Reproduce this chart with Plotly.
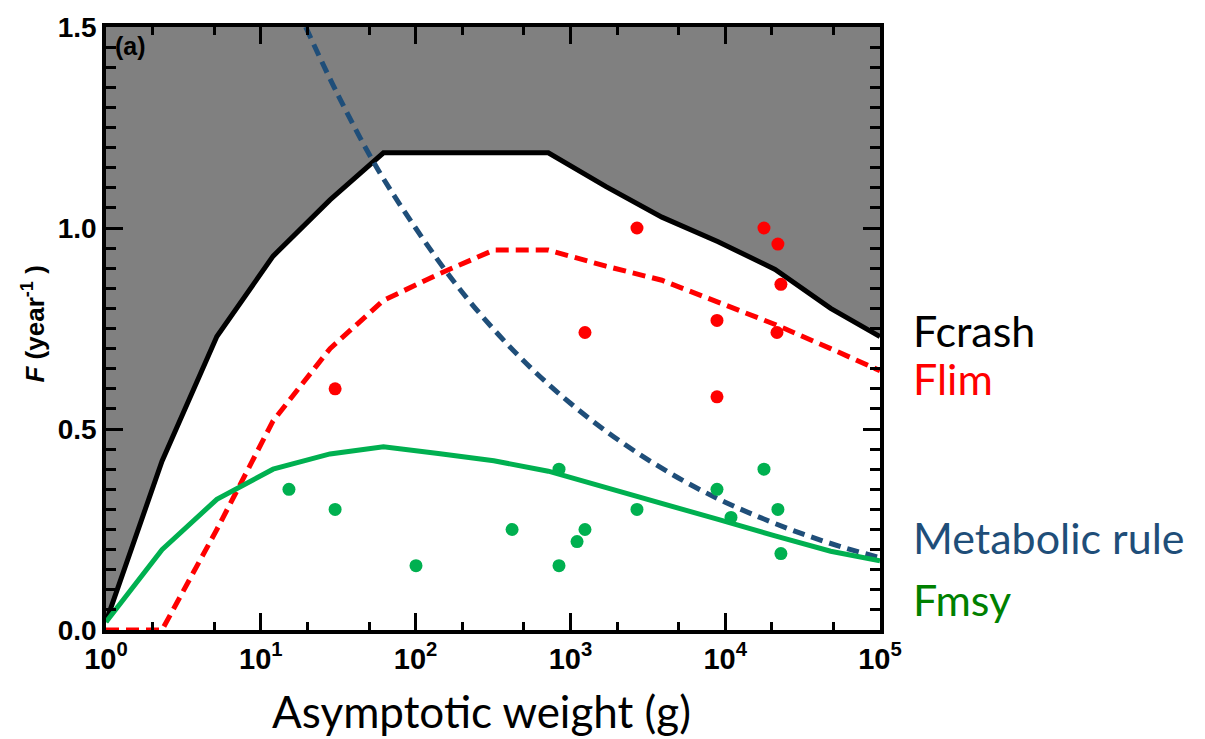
import plotly.graph_objects as go

# ---- data ----
W_grid = [1, 2.3, 5.2, 12, 28, 62, 140, 320, 720, 1700, 3900, 9000, 21000, 48000, 100000]
F_crash = [0.02, 0.42, 0.73, 0.93, 1.07, 1.187, 1.187, 1.187, 1.187, 1.103, 1.027, 0.966, 0.897, 0.80, 0.73]
F_lim = [0.0, 0.0, 0.25, 0.52, 0.70, 0.82, 0.885, 0.945, 0.945, 0.905, 0.87, 0.815, 0.76, 0.70, 0.645]
F_msy = [0.02, 0.20, 0.325, 0.40, 0.438, 0.456, 0.439, 0.421, 0.395, 0.355, 0.315, 0.275, 0.234, 0.196, 0.172]

W_metab = [19.5, 31.6, 56.2, 100, 178, 316, 562, 1000, 1780, 3160, 5620, 10000, 17800, 31600, 56200, 100000]
F_metab = [1.50, 1.33, 1.15, 1.00, 0.865, 0.75, 0.65, 0.564, 0.489, 0.424, 0.367, 0.318, 0.276, 0.239, 0.207, 0.18]

W_red_pts = [30.2, 1242, 2692, 8850, 8850, 17800, 21900, 22900, 21600]
F_red_pts = [0.60, 0.74, 1.00, 0.77, 0.58, 1.00, 0.96, 0.86, 0.74]

W_green_pts = [15.2, 30.2, 100.6, 420, 844, 844, 1104, 1242, 2692, 8850, 10900, 17800, 21900, 22900]
F_green_pts = [0.35, 0.30, 0.16, 0.25, 0.40, 0.16, 0.22, 0.25, 0.30, 0.35, 0.28, 0.40, 0.30, 0.19]

x_tickvals = [1, 10, 100, 1000, 10000, 100000]
x_ticktext = ["10<sup>0</sup>", "10<sup>1</sup>", "10<sup>2</sup>", "10<sup>3</sup>", "10<sup>4</sup>", "10<sup>5</sup>"]
y_tickvals = [0.0, 0.5, 1.0, 1.5]
y_ticktext = ["0.0", "0.5", "1.0", "1.5"]

series_labels = ["Fcrash", "Flim", "Metabolic rule", "Fmsy"]
label_levels = [0.745, 0.625, 0.23, 0.075]
label_colors = ["#000000", "#FF0000", "#1F4E79", "#008000"]

Y_MAX = 1.5
GRAY = "#808080"

fig = go.Figure()

# gray region above Fcrash
fig.add_trace(go.Scatter(x=W_grid, y=[Y_MAX] * len(W_grid), mode="lines",
                         line=dict(width=0, color=GRAY), showlegend=False, hoverinfo="skip"))
fig.add_trace(go.Scatter(x=W_grid, y=F_crash, mode="lines", fill="tonexty", fillcolor=GRAY,
                         line=dict(color="#000000", width=5), showlegend=False))

fig.add_trace(go.Scatter(x=W_grid, y=F_lim, mode="lines",
                         line=dict(color="#FF0000", width=5, dash="13px,7px"), showlegend=False))
fig.add_trace(go.Scatter(x=W_metab, y=F_metab, mode="lines", line_shape="spline",
                         line=dict(color="#1F4E79", width=5, dash="12px,7px"), showlegend=False))
fig.add_trace(go.Scatter(x=W_grid, y=F_msy, mode="lines",
                         line=dict(color="#00B050", width=5), showlegend=False))

fig.add_trace(go.Scatter(x=W_red_pts, y=F_red_pts, mode="markers",
                         marker=dict(color="#FF0000", size=13, line=dict(width=0)), showlegend=False))
fig.add_trace(go.Scatter(x=W_green_pts, y=F_green_pts, mode="markers",
                         marker=dict(color="#00B050", size=13, line=dict(width=0)), showlegend=False))

xtickfont = dict(family="Liberation Sans, Arial", size=29, color="#000000", weight="bold")
ytickfont = dict(family="Liberation Sans, Arial", size=28, color="#000000", weight="bold")

fig.update_xaxes(type="log", range=[0, 5], tickvals=x_tickvals, ticktext=x_ticktext,
                 ticks="inside", ticklen=17, tickwidth=3, tickcolor="#000000",
                 showline=True, linecolor="#000000", linewidth=3.5, mirror="ticks",
                 showgrid=False, zeroline=False, tickfont=xtickfont,
                 minor=dict(ticks="inside", ticklen=8, tickwidth=2.5, tickcolor="#000000",
                            showgrid=False))
fig.update_yaxes(range=[0, Y_MAX], tickvals=y_tickvals, ticktext=y_ticktext,
                 ticks="inside", ticklen=17, tickwidth=3, tickcolor="#000000",
                 showline=True, linecolor="#000000", linewidth=3.5, mirror="ticks",
                 showgrid=False, zeroline=False, tickfont=ytickfont,
                 minor=dict(ticks="inside", ticklen=10, tickwidth=2.5, tickcolor="#000000",
                            dtick=0.05, showgrid=False))

annotations = [
    dict(text="<b>(a)</b>", xref="paper", yref="paper", x=0.009, y=0.995,
         xanchor="left", yanchor="top", showarrow=False,
         font=dict(family="Liberation Sans, Arial", size=25, color="#000000")),
    dict(text="<b><i>F</i> (year<sup>-1</sup> )</b>", xref="paper", yref="paper",
         x=-0.094, y=0.507, textangle=-90, xanchor="center", yanchor="middle", showarrow=False,
         font=dict(family="Liberation Sans, Arial", size=26, color="#000000")),
    dict(text="Asymptotic weight (g)", xref="paper", yref="paper", x=0.485, y=-0.135,
         xanchor="center", yanchor="middle", showarrow=False,
         font=dict(family="Lato", size=44, color="#000000")),
]
for lab, lev, col in zip(series_labels, label_levels, label_colors):
    annotations.append(dict(text=lab, xref="paper", yref="y", x=1.04, y=lev,
                            xanchor="left", yanchor="middle", showarrow=False,
                            font=dict(family="Lato", size=43, color=col)))

fig.update_layout(width=1205, height=739, autosize=False,
                  margin=dict(l=106, r=325, t=21, b=109),
                  paper_bgcolor="#FFFFFF", plot_bgcolor="#FFFFFF",
                  annotations=annotations, showlegend=False)

fig.write_html("out.html", config={"displayModeBar": False},
               post_script="document.body.style.margin='0';")
